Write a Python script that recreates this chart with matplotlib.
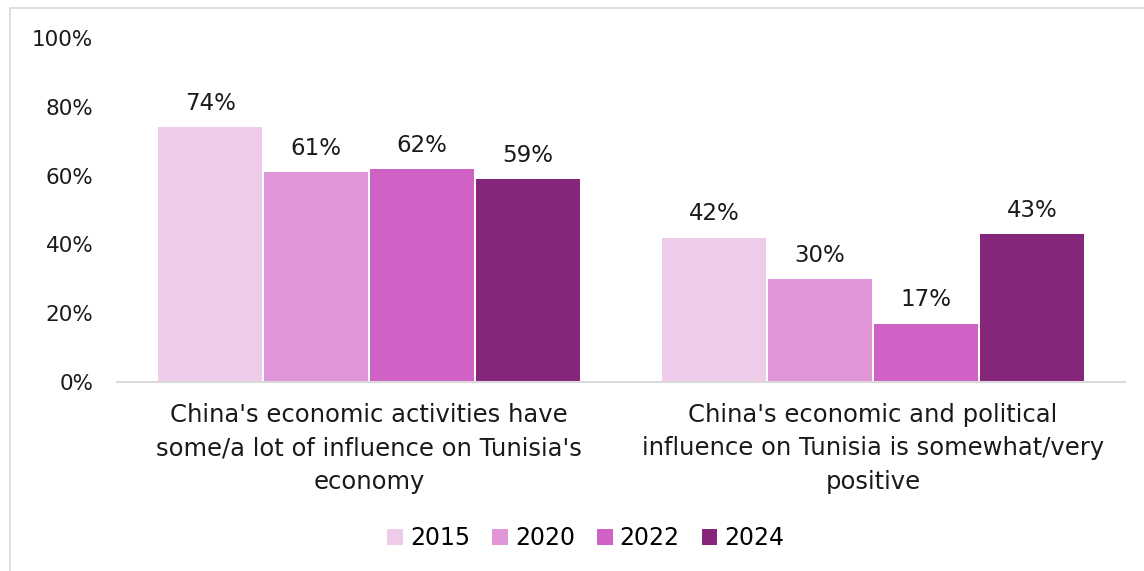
import numpy as np
import matplotlib
matplotlib.use("Agg")
import matplotlib.pyplot as plt
from matplotlib.patches import Rectangle

categories = ["China's economic activities have\nsome/a lot of influence on Tunisia's\neconomy",
              "China's economic and political\ninfluence on Tunisia is somewhat/very\npositive"]
years = ["2015", "2020", "2022", "2024"]
values = {
    "2015": [74, 42],
    "2020": [61, 30],
    "2022": [62, 17],
    "2024": [59, 43],
}
colors = ["#EFCBEA", "#E096D8", "#D062C6", "#85267A"]

plt.rcParams['font.family'] = ['DejaVu Sans']

fig = plt.figure(figsize=(11.44, 5.71), dpi=100)
W, H = 1144, 571
ax = fig.add_axes([117 / W, 1 - 382 / H, (1125 - 117) / W, (382 - 38) / H])

# light border around chart area
fig.patches.append(Rectangle((10 / W, -0.1), 1.2, 1 - 8 / H + 0.1, transform=fig.transFigure,
                             fill=False, edgecolor="#D9D9D9", linewidth=1.2))

x = np.arange(len(categories))
bw = 0.21
for i, (yr, c) in enumerate(zip(years, colors)):
    pos = x + (i - 1.5) * bw
    bars = ax.bar(pos, values[yr], width=bw - 0.004, color=c, label=yr, zorder=2)
    for b, v in zip(bars, values[yr]):
        ax.text(b.get_x() + b.get_width() / 2, v + 3.5, f"{v}%", ha="center", va="bottom",
                fontsize=16.5, color="#1a1a1a")

ax.set_xlim(-0.5, 1.5)
ax.set_ylim(0, 100)
ax.set_yticks(np.arange(0, 101, 20))
ax.set_yticklabels([f"{t}%" for t in range(0, 101, 20)], fontsize=15.5, color="#1a1a1a")
ax.set_xticks(x)
ax.set_xticklabels(categories, fontsize=17.5, color="#1a1a1a", linespacing=1.5)
ax.tick_params(axis="both", length=0)
ax.tick_params(axis="y", pad=17)
ax.tick_params(axis="x", pad=15)
for s in ["top", "right", "left"]:
    ax.spines[s].set_visible(False)
ax.spines["bottom"].set_color("#D9D9D9")
ax.spines["bottom"].set_linewidth(1.5)

ax.legend(loc="center", bbox_to_anchor=(586 / W, 1 - 538 / H), bbox_transform=fig.transFigure,
          ncol=4, frameon=False, fontsize=17, handlelength=0.65, handleheight=0.65,
          handletextpad=0.3, columnspacing=0.95)

fig.savefig("out.png", dpi=100)
